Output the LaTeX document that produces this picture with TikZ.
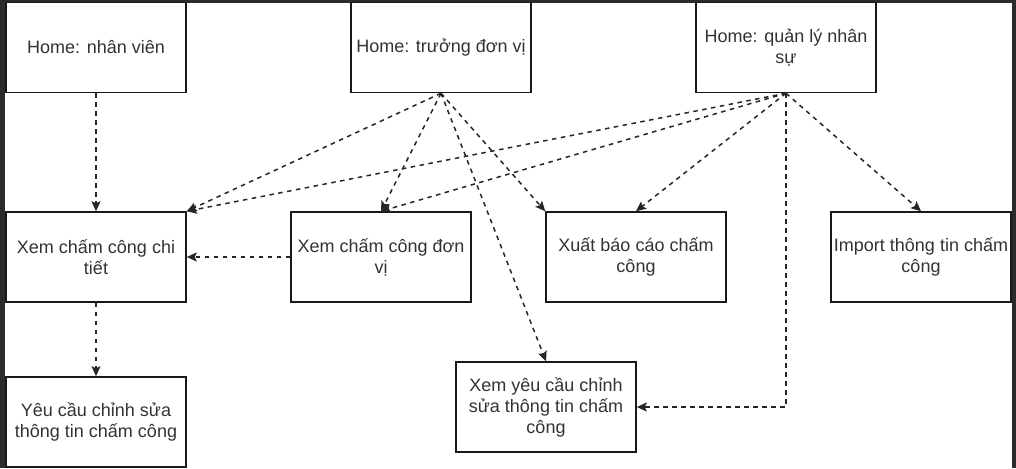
\documentclass[tikz,border=0pt]{standalone}
\usepackage{fontspec}
\setmainfont{Liberation Sans}
\usetikzlibrary{arrows.meta}

\begin{document}
\begin{tikzpicture}[x=1pt, y=-1pt,
    box/.style={draw=black!90, line width=1.5pt, minimum width=180pt, minimum height=90pt,
        inner sep=0pt, align=center, text=black!80, font=\fontsize{18}{21}\selectfont},
    link/.style={draw=black!85, line width=1.5pt, dash pattern=on 4.5pt off 4.5pt,
        -{Stealth[length=10pt, width=9pt, inset=2pt]}}]
    \fill[black!83] (0,0) rectangle (1016,468);
    \fill[white] (5,3) rectangle (1012,468);
    \useasboundingbox (0,0) rectangle (1016,468);

    \node[box] (nv) at (96,47.5) {Home: nhân viên};
    \node[box] (tdv) at (441,47.5) {Home: trưởng đơn vị};
    \node[box] (qlns) at (786,47.5) {Home: quản lý nhân\\sự};

    \node[box] (cctt) at (96,257) {Xem chấm công chi\\tiết};
    \node[box] (ccdv) at (381,257) {Xem chấm công đơn\\vị};
    \node[box] (xbc) at (636,257) {Xuất báo cáo chấm\\công};
    \node[box] (imp) at (921,257) {Import thông tin chấm\\công};

    \node[box] (yc) at (96,422) {Yêu cầu chỉnh sửa\\thông tin chấm công};
    \node[box] (xyc) at (546,407) {Xem yêu cầu chỉnh\\sửa thông tin chấm\\công};

    \draw[link] (nv) -- (cctt);
    \draw[link] (cctt) -- (yc);
    \draw[link] (ccdv) -- (cctt);

    \draw[link] (tdv.south) -- (cctt.north east);
    \draw[link] (tdv.south) -- (ccdv.north);
    \draw[link] (tdv.south) -- (xbc.north west);
    \draw[link] (tdv.south) -- (xyc.north);

    \draw[link] (qlns.south) -- (cctt.north east);
    \draw[link] (qlns.south) -- (ccdv.north);
    \draw[link] (qlns.south) -- (xbc.north);
    \draw[link] (qlns.south) -- (imp.north);
    \draw[link] (qlns.south) |- (xyc.east);
\end{tikzpicture}
\end{document}
